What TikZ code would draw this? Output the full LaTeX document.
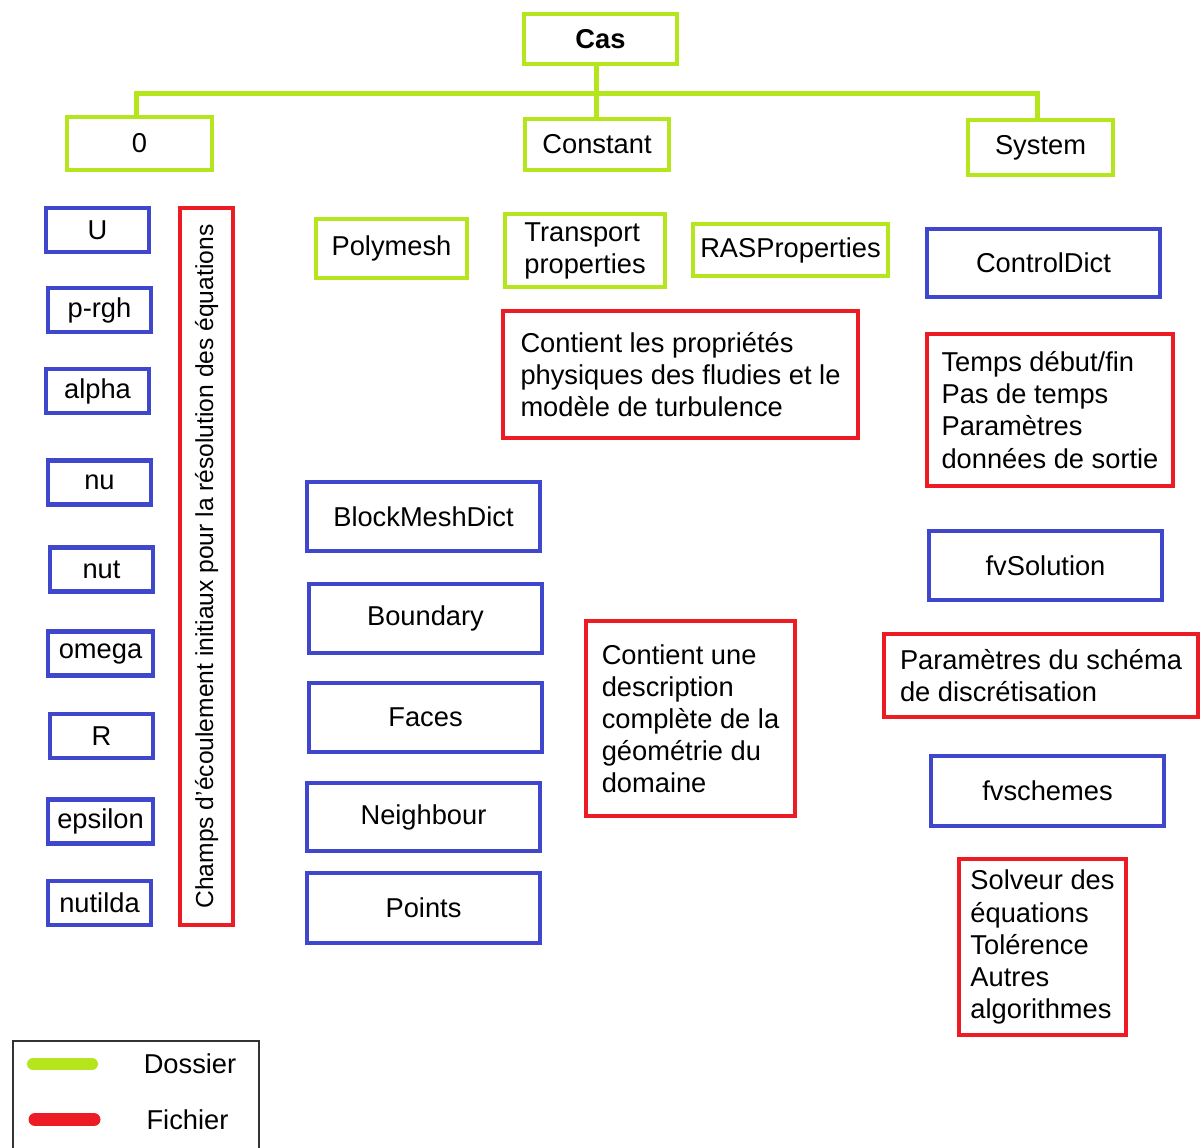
\documentclass[tikz,border=0pt]{standalone}
\usepackage{fontspec}
\setmainfont{Liberation Sans}
\definecolor{vertdossier}{HTML}{B5E61D}
\definecolor{rougefichier}{HTML}{ED1C24}
\definecolor{bleudonnee}{HTML}{3F48CC}
\newcommand{\px}{0.025cm}
\tikzset{
  boite/.style={rectangle, line width=4.5*\px, inner sep=0pt, align=left,
    font=\fontsize{19.4}{22.8}\selectfont},
  dossier/.style={boite, draw=vertdossier},
  fichier/.style={boite, draw=rougefichier},
  donnee/.style={boite, draw=bleudonnee},
  lien/.style={draw=vertdossier, line width=5*\px},
}
\begin{document}
\begin{tikzpicture}[x=0.025cm, y=-0.025cm]
 \useasboundingbox (0,0) rectangle (1202,1147);
 \clip (0,0) rectangle (1202,1147);

 % dossiers principaux
 \node[dossier, minimum width=153*\px, minimum height=50*\px, font=\fontsize{19.4}{22.8}\selectfont\bfseries] (cas) at (600.5,39) {Cas};
 \node[dossier, minimum width=145*\px, minimum height=53*\px] (zero) at (139.5,143.5) {0};
 \node[dossier, minimum width=144*\px, minimum height=51*\px] (constant) at (597,144.5) {Constant};
 \node[dossier, minimum width=145*\px, minimum height=55*\px] (system) at (1040.5,147.5) {System};

 \coordinate (bus) at (596,93);
 \coordinate (busgauche) at (136,93);
 \coordinate (busdroite) at (1037,93);
 \draw[lien] (bus |- cas.south) -- (bus |- constant.north);
 \draw[lien] (busgauche |- zero.north) -- (busgauche) -- (busdroite) -- (busdroite |- system.north);

 % dossier 0
 \foreach \nom/\cx/\cy/\w [count=\i] in {U/97.5/230/103, p-rgh/99.5/310/103,
   alpha/97.5/391/103, nu/99.5/482.5/103, nut/101.5/569.5/103,
   omega/100.5/653.5/105, R/101.5/736/103, epsilon/100.5/821.5/105,
   nutilda/99.5/903/103}
 {
  \node[donnee, minimum width=\w*\px, minimum height=44*\px] (champ\i) at (\cx,\cy) {\nom};
 }
 \node[fichier, rotate=90, minimum width=717*\px, minimum height=53*\px,
   font=\fontsize{17.5}{21}\selectfont] (champs) at (206.5,566.5)
   {Champs d'écoulement initiaux pour la résolution des équations};

 % dossier constant
 \node[dossier, minimum width=151*\px, minimum height=59*\px] (polymesh) at (391.5,248.5) {Polymesh};
 \node[dossier, minimum width=160*\px, minimum height=73*\px] (transport) at (585,250.5) {Transport\\properties};
 \node[dossier, minimum width=195*\px, minimum height=52*\px] (ras) at (790.5,250) {RASProperties};
 \node[fichier, minimum width=355*\px, minimum height=127*\px] (proprietes) at (680.5,374.5)
   {Contient les propriétés\\physiques des fludies et le\\modèle de turbulence};

 \node[donnee, minimum width=233*\px, minimum height=69*\px] (blockmesh) at (423.5,516.5) {BlockMeshDict};
 \node[donnee, minimum width=233*\px, minimum height=69*\px] (boundary) at (425.5,618.5) {Boundary};
 \node[donnee, minimum width=233*\px, minimum height=69*\px] (faces) at (425.5,717.5) {Faces};
 \node[donnee, minimum width=233*\px, minimum height=68*\px] (neighbour) at (423.5,817) {Neighbour};
 \node[donnee, minimum width=233*\px, minimum height=70*\px] (points) at (423.5,908) {Points};
 \node[fichier, minimum width=209*\px, minimum height=195*\px] (geometrie) at (690.5,718.5)
   {Contient une\\description\\complète de la\\géométrie du\\domaine};

 % dossier system
 \node[donnee, minimum width=233*\px, minimum height=68*\px] (controldict) at (1043.5,263) {ControlDict};
 \node[fichier, minimum width=246*\px, minimum height=152*\px] (temps) at (1050,410)
   {Temps début/fin\\Pas de temps\\Paramètres\\données de sortie};
 \node[donnee, minimum width=233*\px, minimum height=69*\px] (fvsolution) at (1045.5,565.5) {fvSolution};
 \node[fichier, minimum width=314*\px, minimum height=83*\px] (schema) at (1041,675.5)
   {Paramètres du schéma\\de discrétisation};
 \node[donnee, minimum width=233*\px, minimum height=70*\px] (fvschemes) at (1047.5,791) {fvschemes};
 \node[fichier, minimum width=167*\px, minimum height=176*\px] (solveur) at (1042.5,947)
   {Solveur des\\équations\\Tolérence\\Autres\\algorithmes};

 % legende
 \draw[black!80, line width=2*\px] (13,1041) rectangle (259,1170);
 \draw[vertdossier, line width=12*\px, line cap=round] (33,1064) -- (92,1064);
 \draw[rougefichier, line width=13*\px, line cap=round] (35,1119.5) -- (94,1119.5);
 \node[font=\fontsize{19.4}{22.8}\selectfont, inner sep=0pt] (dossier) at (190,1064) {Dossier};
 \node[font=\fontsize{19.4}{22.8}\selectfont, inner sep=0pt] (fichier) at (187.5,1120) {Fichier};
\end{tikzpicture}
\end{document}
